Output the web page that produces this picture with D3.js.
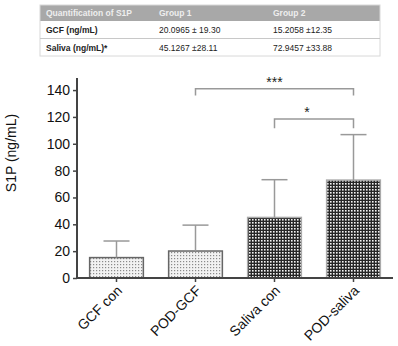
<!DOCTYPE html>
<html lang="en">
<head>
<meta charset="UTF-8">
<title>S1P</title>
<script src="https://d3js.org/d3.v7.min.js"></script>
<style>
  body { margin: 0; background: #fff; }
  text { font-family: "Liberation Sans", Arial, sans-serif; }
</style>
</head>
<body>
<div id="chart"></div>
<script>
// data
const groups = ["GCF con", "POD-GCF", "Saliva con", "POD-saliva"];
const means = [15.2058, 20.0965, 45.1267, 72.9457];
const sds = [12.35, 19.30, 28.11, 33.88];
const fills = ["dots", "dots", "checks", "checks"];
const yTicks = [0, 20, 40, 60, 80, 100, 120, 140];

const tableHead = ["Quantification of S1P", "Group 1", "Group 2"];
const tableRows = [
  ["GCF (ng/mL)", "20.0965 \u00b1 19.30", "15.2058 \u00b112.35"],
  ["Saliva (ng/mL)*", "45.1267 \u00b128.11", "72.9457 \u00b133.88"]
];

// significance brackets: [from, to, y level, drop to, label]
const brackets = [
  ["POD-GCF", "POD-saliva", 141, 136, "***"],
  ["Saliva con", "POD-saliva", 118.5, 111.5, "*"]
];

const W = 398, H = 346;
const svg = d3.select("#chart").append("svg")
  .attr("width", W).attr("height", H);

const defs = svg.append("defs");
const dots = defs.append("pattern").attr("id", "dots")
  .attr("patternUnits", "userSpaceOnUse").attr("width", 3).attr("height", 3);
dots.append("rect").attr("width", 3).attr("height", 3).attr("fill", "#f2f2f2");
dots.append("rect").attr("width", 1.2).attr("height", 1.2).attr("fill", "#8a8a8a");
const checks = defs.append("pattern").attr("id", "checks")
  .attr("patternUnits", "userSpaceOnUse").attr("width", 3).attr("height", 3);
checks.append("rect").attr("width", 3).attr("height", 3).attr("fill", "#262626");
checks.append("rect").attr("width", 1.6).attr("height", 1.6).attr("fill", "#f4f4f4");

// table
const tX0 = 40, tX1 = 380;
const colX = [46, 159, 273];
const table = svg.append("g").attr("class", "table");
table.append("rect").attr("x", tX0).attr("y", 5).attr("width", tX1 - tX0).attr("height", 16)
  .attr("fill", "#a8a8a8");
table.append("rect").attr("x", tX0).attr("y", 5).attr("width", tX1 - tX0).attr("height", 51)
  .attr("fill", "none").attr("stroke", "#d8d8d8").attr("stroke-width", 1);
[38.5].forEach(y => table.append("line").attr("x1", tX0).attr("x2", tX1)
  .attr("y1", y).attr("y2", y).attr("stroke", "#c8c8c8"));
table.selectAll(".th").data(tableHead).join("text")
  .attr("x", (d, i) => colX[i]).attr("y", 16)
  .attr("font-size", 8.5).attr("font-weight", "bold").attr("fill", "#eeeeee")
  .text(d => d);
tableRows.forEach((row, r) => {
  table.selectAll(".tr" + r).data(row).join("text")
    .attr("x", (d, i) => colX[i]).attr("y", 33 + r * 17.5)
    .attr("font-size", 8.5).attr("font-weight", (d, i) => i === 0 ? "bold" : "normal")
    .attr("fill", "#222")
    .text(d => d);
});

// scales
const x = d3.scaleBand().domain(groups).range([77, 393])
  .paddingInner(0.32).paddingOuter(0.16);
const y = d3.scaleLinear().domain([0, 149]).range([278, 78]);

// bars
const g = svg.append("g");
g.selectAll(".bar").data(groups).join("rect")
  .attr("class", "bar")
  .attr("x", d => x(d)).attr("width", x.bandwidth())
  .attr("y", (d, i) => y(means[i])).attr("height", (d, i) => y(0) - y(means[i]))
  .attr("fill", (d, i) => `url(#${fills[i]})`)
  .attr("stroke", (d, i) => fills[i] === "dots" ? "#666" : "#aaa")
  .attr("stroke-width", 1.5);

// error bars (upper only)
const cx = d => x(d) + x.bandwidth() / 2;
g.selectAll(".err").data(groups).join("line")
  .attr("x1", cx).attr("x2", cx)
  .attr("y1", (d, i) => y(means[i])).attr("y2", (d, i) => y(means[i] + sds[i]))
  .attr("stroke", "#999").attr("stroke-width", 1.5);
g.selectAll(".cap").data(groups).join("line")
  .attr("x1", d => cx(d) - 13).attr("x2", d => cx(d) + 13)
  .attr("y1", (d, i) => y(means[i] + sds[i])).attr("y2", (d, i) => y(means[i] + sds[i]))
  .attr("stroke", "#999").attr("stroke-width", 1.5);

// axes
const yAxis = svg.append("g").attr("transform", "translate(77,0)")
  .call(d3.axisLeft(y).tickValues(yTicks).tickSize(4).tickPadding(3));
const xAxis = svg.append("g").attr("transform", "translate(0,278)")
  .call(d3.axisBottom(x).tickSize(4).tickFormat(""));
[yAxis, xAxis].forEach(a => {
  a.select(".domain").attr("stroke", "#444").attr("stroke-width", 2);
  a.selectAll(".tick line").attr("stroke", "#444").attr("stroke-width", 1.5);
});
yAxis.select(".domain").attr("d", "M0,78V278");
xAxis.select(".domain").attr("d", "M77,0H393");
yAxis.selectAll(".tick text").attr("font-size", 14).attr("fill", "#111")
  .attr("font-family", "Liberation Sans, Arial, sans-serif");

svg.selectAll(".xl").data(groups).join("text")
  .attr("transform", d => `translate(${cx(d) + 3},${288}) rotate(-45)`)
  .attr("text-anchor", "end").attr("dy", "0.35em")
  .attr("font-size", 14).attr("fill", "#111")
  .text(d => d);

svg.append("text")
  .attr("transform", "translate(16,153) rotate(-90)")
  .attr("text-anchor", "middle").attr("font-size", 14).attr("fill", "#111")
  .text("S1P (ng/mL)");

// brackets
brackets.forEach(([a, b, lvl, drop, lab]) => {
  const x1 = cx(a), x2 = cx(b);
  svg.append("path")
    .attr("d", `M${x1},${y(drop)}V${y(lvl)}H${x2}V${y(drop)}`)
    .attr("fill", "none").attr("stroke", "#999").attr("stroke-width", 1.5);
  svg.append("text")
    .attr("x", (x1 + x2) / 2 - (lab.length === 1 ? 7 : 0)).attr("y", y(lvl) - 2)
    .attr("text-anchor", "middle").attr("font-size", 14).attr("fill", "#222")
    .text(lab);
});
</script>
</body>
</html>
